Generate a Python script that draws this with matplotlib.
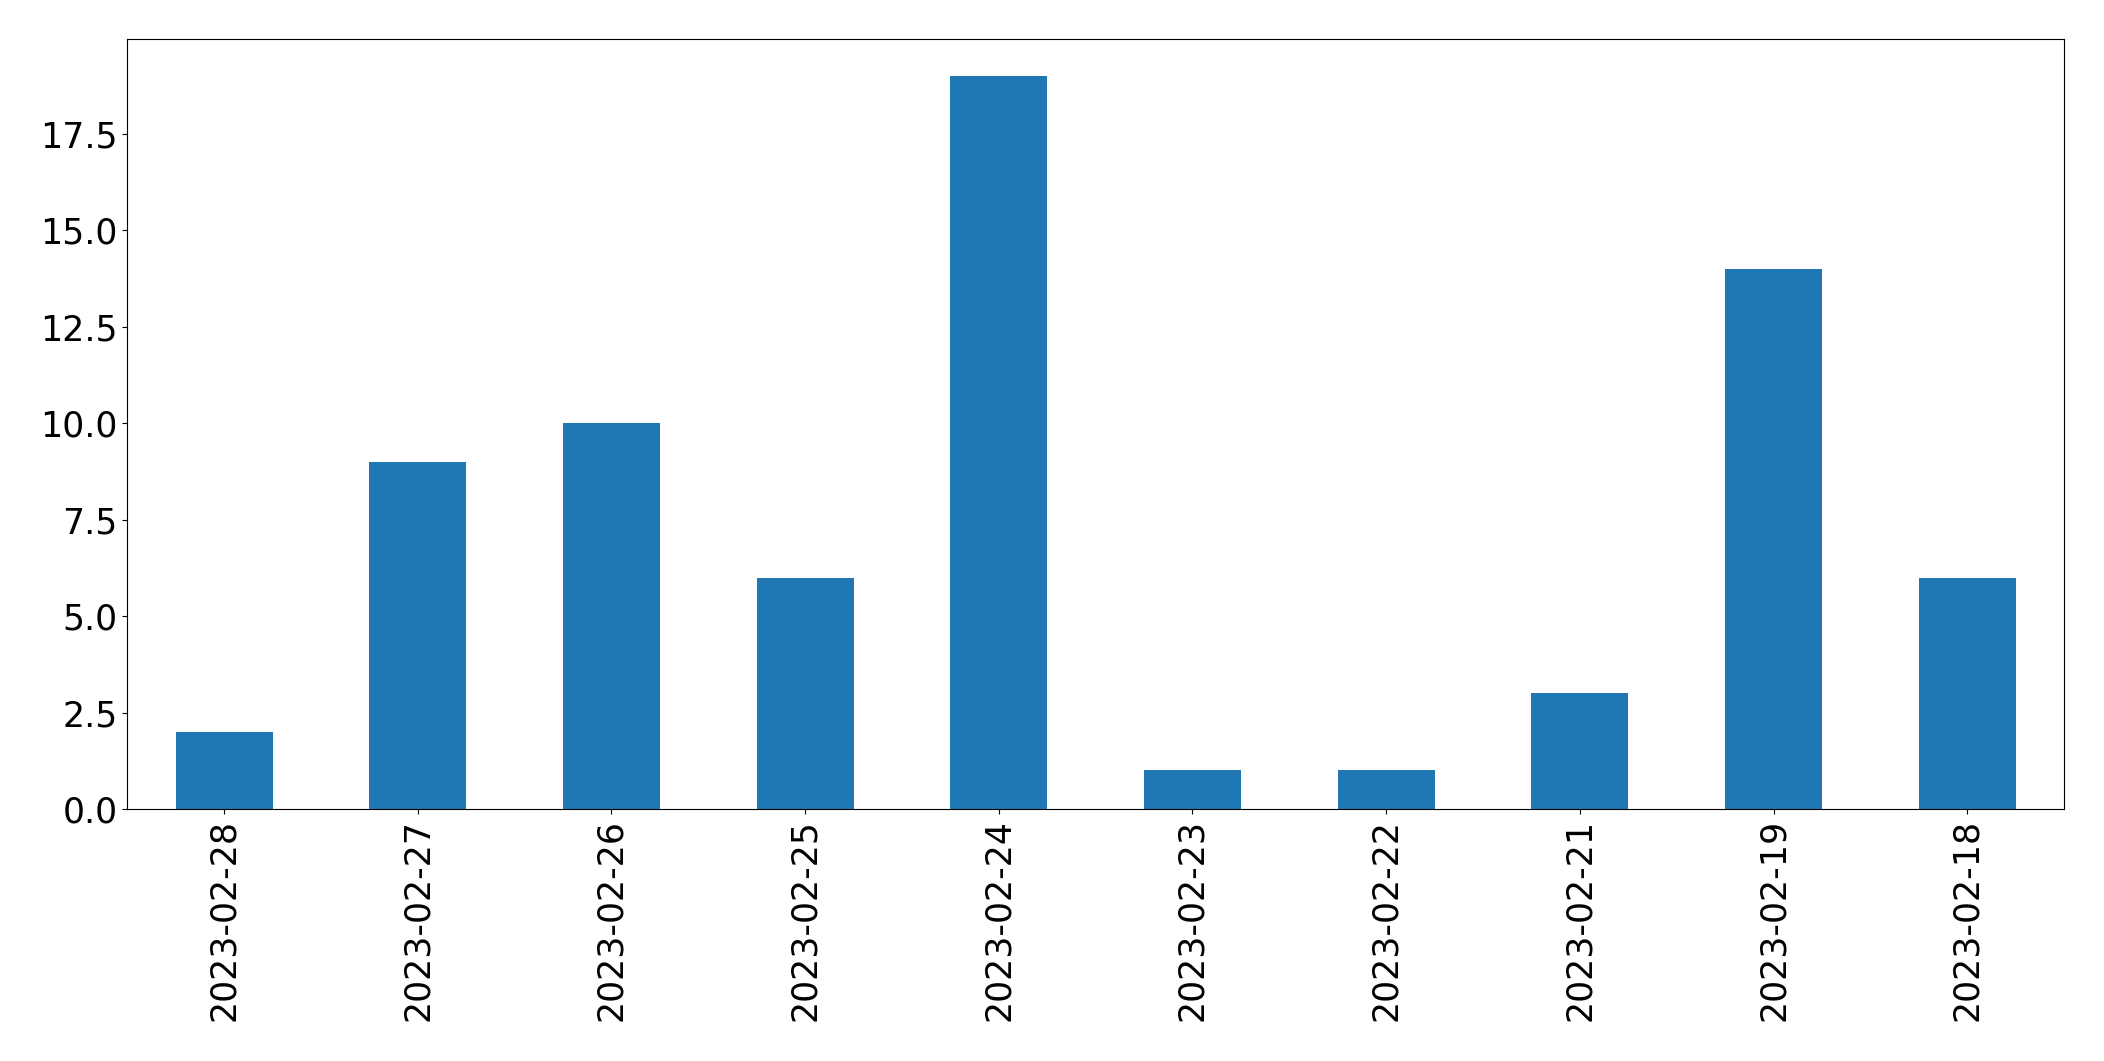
import pandas as pd
import matplotlib
matplotlib.use('Agg')
import matplotlib.pyplot as plt

dates = ['2023-02-28', '2023-02-27', '2023-02-26', '2023-02-25', '2023-02-24',
         '2023-02-23', '2023-02-22', '2023-02-21', '2023-02-19', '2023-02-18']
counts = [2, 9, 10, 6, 19, 1, 1, 3, 14, 6]

s = pd.Series(counts, index=dates)

fig, ax = plt.subplots(figsize=(21.04, 10.61), dpi=100)
s.plot(kind='bar', ax=ax, color='#1f77b4')
ax.tick_params(axis='both', labelsize=25)
plt.subplots_adjust(left=0.0605, right=0.981, top=0.963, bottom=0.2375)
fig.savefig('out.png', dpi=100)
